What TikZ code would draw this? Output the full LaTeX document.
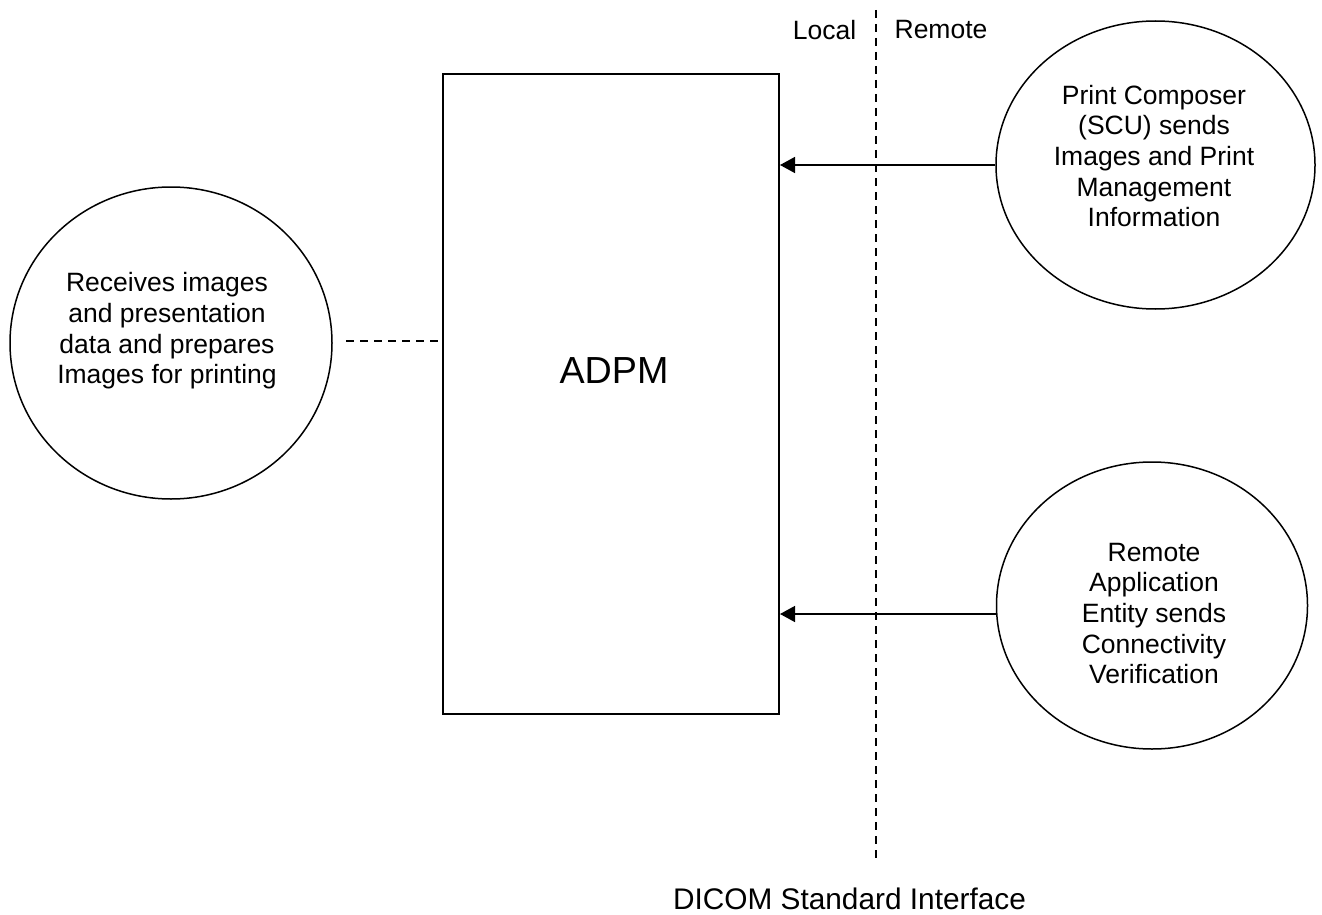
\documentclass[tikz,border=0pt]{standalone}
\usepackage{fontspec}
\setmainfont{Liberation Sans}
\usetikzlibrary{arrows.meta,shapes.geometric}
\tikzset{
  line/.style={draw=black,line width=1.5pt},
  blob/.style={line,ellipse,inner sep=0pt},
  txt/.style={align=center,inner sep=0pt,font=\fontsize{26.5}{30.7}\selectfont},
  lab/.style={inner sep=0pt,font=\fontsize{26.5}{30.7}\selectfont},
  arr/.style={line,-{Triangle[length=15pt,width=16pt]}},
  dashes/.style={line,dash pattern=on 7.8pt off 6.2pt}
}
\begin{document}
\begin{tikzpicture}[x=1pt,y=-1pt]
\useasboundingbox (0,0) rectangle (1322,915);
\node[line,rectangle,minimum width=336pt,minimum height=640pt,inner sep=0pt] (adpm) at (611,394) {};
\node[font=\fontsize{37.7}{40}\selectfont,inner sep=0pt] (adpmt) at (614,371) {ADPM};
\node[blob,minimum width=319pt,minimum height=288pt] (c1) at (1155.5,165) {};
\node[blob,minimum width=311pt,minimum height=287pt] (c2) at (1152,605.5) {};
\node[blob,minimum width=322pt,minimum height=312pt] (c3) at (171,343) {};
\node[txt] (c1t) at (1154,156) {Print Composer\\(SCU) sends\\Images and Print\\Management\\Information};
\node[txt] (c2t) at (1154,613.5) {Remote\\Application\\Entity sends\\Connectivity\\Verification};
\node[txt] (c3t) at (167,331) {Receives images\\and presentation\\data and prepares\\Images for printing};
\coordinate (t1) at (780,165);
\coordinate (s1) at (c1.west |- t1);
\coordinate (t2) at (780,614);
\coordinate (s2) at (c2.west |- t2);
\draw[arr] (s1) -- (t1);
\draw[arr] (s2) -- (t2);
\coordinate (d1) at (346,341);
\coordinate (d2) at (438,341);
\draw[dashes] (d1) -- (d2);
\coordinate (v1) at (876,10);
\coordinate (v2) at (876,858);
\draw[dashes] (v1) -- (v2);
\node[lab] (local) at (824.5,30) {Local};
\node[lab] (remote) at (941,30) {Remote};
\node[font=\fontsize{29.8}{32}\selectfont,inner sep=0pt] (dicom) at (849.5,899) {DICOM Standard Interface};
\end{tikzpicture}
\end{document}
